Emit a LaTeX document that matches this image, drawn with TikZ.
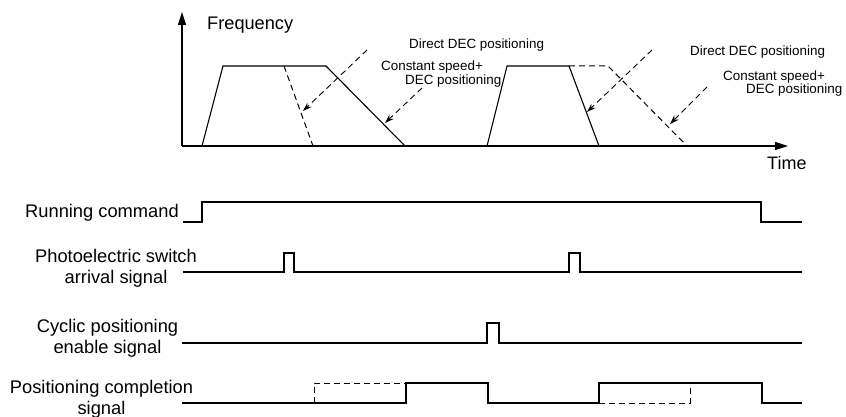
\documentclass[tikz,border=0pt]{standalone}
\usepackage{fontspec}
\setmainfont{Liberation Sans}
\usetikzlibrary{arrows.meta}
\begin{document}
\begin{tikzpicture}[x=1pt,y=-1pt, line join=miter,
  wave/.style={line width=1.1pt},
  dashwave/.style={line width=1pt, dash pattern=on 6pt off 4pt},
  axis/.style={line width=1.1pt, -{Triangle[length=13pt,width=8pt]}},
  lbl/.style={inner sep=0pt, font=\fontsize{13.4}{16}\selectfont, anchor=west},
  sig/.style={inner sep=0pt, align=center, font=\fontsize{18.3}{21}\selectfont},
  ptr/.style={dash pattern=on 6pt off 4pt, line width=0.9pt, -{Stealth[length=9pt,width=6pt]}}
]
\useasboundingbox (0,0) rectangle (846,417);

% axes
\coordinate (O) at (182,146);
\coordinate (Ytop) at (182,12);
\coordinate (Xend) at (788,146);
\draw[axis] (O) -- (Ytop);
\draw[axis] (O) -- (Xend);
\node[inner sep=0pt, anchor=west, font=\fontsize{18.2}{20}\selectfont] (freq) at (207,25) {Frequency};
\node[inner sep=0pt, anchor=west, font=\fontsize{18}{20}\selectfont] (time) at (767,163) {Time};

% frequency profiles
\draw[wave] (202,146) -- (223,66) -- (326,66) -- (405,146);
\draw[dashwave] (284,66) -- (313,146);
\draw[wave] (487,146) -- (507,66) -- (569,66) -- (599,146);
\draw[dashwave] (569,66) -- (608,66) -- (687,146);

% pointers
\coordinate (p1s) at (367,50);  \coordinate (p1e) at (303,111);
\coordinate (p2s) at (422,88);  \coordinate (p2e) at (385,123);
\coordinate (p3s) at (652,50);  \coordinate (p3e) at (587,112);
\coordinate (p4s) at (707,87);  \coordinate (p4e) at (670,124);
\draw[ptr] (p1s) -- (p1e);
\draw[ptr] (p2s) -- (p2e);
\draw[ptr] (p3s) -- (p3e);
\draw[ptr] (p4s) -- (p4e);

\node[lbl] (d1) at (409,45) {Direct DEC positioning};
\node[lbl] (c1) at (381,67) {Constant speed+};
\node[lbl] (e1) at (405,81) {DEC positioning};
\node[lbl] (d2) at (690,52) {Direct DEC positioning};
\node[lbl] (c2) at (723,77) {Constant speed+};
\node[lbl] (e2) at (746,90) {DEC positioning};

% timing signals
\node[sig, anchor=east] (run) at (179,213) {Running command};
\node[sig] (photo) at (116,268.5) {Photoelectric switch\\arrival signal};
\node[sig] (cyc) at (107.5,338) {Cyclic positioning\\enable signal};
\node[sig] (pos) at (101.5,399) {Positioning completion\\signal};

\draw[wave] (183,222) -- (202,222) -- (202,202) -- (761,202) -- (761,222) -- (802,222);
\draw[wave] (183,272) -- (284,272) -- (284,253) -- (294,253) -- (294,272) -- (569,272) -- (569,253) -- (580,253) -- (580,272) -- (802,272);
\draw[wave] (182,343) -- (487,343) -- (487,323) -- (499,323) -- (499,343) -- (802,343);
\draw[wave] (182,403) -- (406,403) -- (406,383) -- (488,383) -- (488,403) -- (599,403) -- (599,383) -- (762,383) -- (762,403) -- (802,403);
\draw[dashwave] (314,403) -- (314,383) -- (406,383);
\draw[dashwave] (599,403) -- (690,403) -- (690,383);
\end{tikzpicture}
\end{document}
